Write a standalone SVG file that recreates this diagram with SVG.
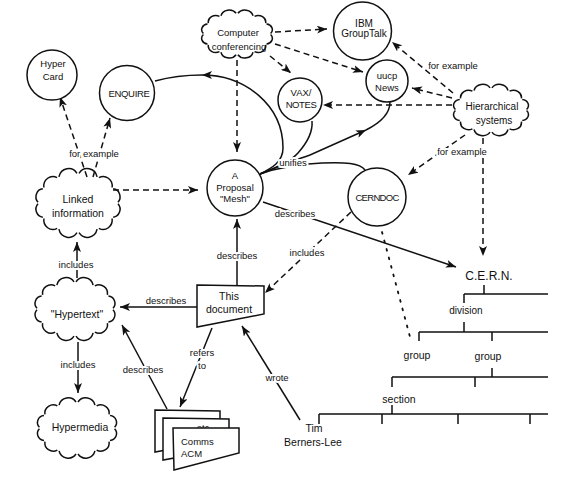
<svg xmlns="http://www.w3.org/2000/svg" xmlns:xlink="http://www.w3.org/1999/xlink" width="562" height="480" viewBox="0 0 562 480">
<style>
.c{fill:#fff;stroke:#111;stroke-width:1.5}
.cl{fill:none;stroke:#111;stroke-width:1.5;vector-effect:non-scaling-stroke}
.s{fill:none;stroke:#111;stroke-width:1.5}
.d{fill:none;stroke:#111;stroke-width:1.5;stroke-dasharray:6,4}
.dot{fill:none;stroke:#111;stroke-width:1.8;stroke-dasharray:1.8,7;stroke-linecap:round}
.a{marker-end:url(#ah)}
.t{font-family:"Liberation Sans",Arial,Helvetica,sans-serif;font-size:9.5px;fill:#111;text-anchor:middle}
.b{font-size:10.5px}
.h{stroke:#fff;stroke-width:4;stroke-linejoin:round;paint-order:stroke}
.tr{fill:none;stroke:#111;stroke-width:1.5}
</style>
<defs>
<marker id="ah" viewBox="0 0 10 8" refX="10" refY="4" markerWidth="10" markerHeight="8" markerUnits="userSpaceOnUse" orient="auto">
<path d="M0,0 L10,4 L0,8 L2.5,4 Z" fill="#111"/>
</marker>
<path id="cloud" class="cl" d="M39.99,0.73 A7.5,7.5 0 0 1 35.15,13.36 M34.11,14.63 A9,9 0 0 1 20.90,23.87 M19.09,24.61 A10,10 0 0 1 1.05,27.99 M-1.05,27.99 A10,10 0 0 1 -19.09,24.61 M-20.90,23.87 A9,9 0 0 1 -34.11,14.63 M-35.15,13.36 A7.5,7.5 0 0 1 -39.99,0.73 M-39.99,-0.73 A7.5,7.5 0 0 1 -35.15,-13.36 M-34.11,-14.63 A9,9 0 0 1 -20.90,-23.87 M-19.09,-24.61 A10,10 0 0 1 -1.05,-27.99 M1.05,-27.99 A10,10 0 0 1 19.09,-24.61 M20.90,-23.87 A9,9 0 0 1 34.11,-14.63 M35.15,-13.36 A7.5,7.5 0 0 1 39.99,-0.73"/>
</defs>
<rect width="562" height="480" fill="#fff"/>

<g id="connectors">
<path class="d a" d="M275,32 L327,29"/>
<path class="d a" d="M275,44 L363,72"/>
<path class="d a" d="M270,56 L291,73"/>
<path class="d a" d="M237,60 L237,152"/>
<path class="d a" d="M453,93 L392,42"/>
<path class="d a" d="M452,98 L412,88"/>
<path class="d a" d="M452,105 L323,105"/>
<path class="d a" d="M465,135 L408,175"/>
<path class="d a" d="M483,138 L483,256"/>
<path class="d a" d="M113,190 L198,190"/>
<path class="d a" d="M87,177 L60,97"/>
<path class="d a" d="M93,177 L110,118"/>
<path class="d a" d="M351,212 L265,293"/>
<path class="dot" d="M382,232 L410,337"/>
<path class="s a" d="M260,174 C272,168 283,162 283,148 C283,105 245,75 202,75"/>
<path class="s" d="M202,75 C182,75 166,78 155,81"/>
<path class="s" d="M260,174 C275,168 290,162 298,153 C306,144 313,132 312,121"/>
<path class="s a" d="M260,174 C280,166 295,160 310,155 L366,130"/>
<path class="s" d="M366,130 C380,123 390,114 390,102"/>
<path class="s" d="M260,174 C280,167 300,164 322,163 C345,162 360,163 365,170"/>
<path class="s a" d="M263,202 L456,267"/>
<path class="s a" d="M237,285 L237,219"/>
<path class="s a" d="M197,307 L120,307"/>
<path class="s a" d="M212,328 L180,407"/>
<path class="s a" d="M167,409 L122,325"/>
<path class="s a" d="M300,420 L242,326"/>
<path class="s a" d="M77,278 L77,242"/>
<path class="s a" d="M78,342 L78,393"/>
<text class="t h" x="94" y="157">for example</text>
<text class="t h" x="453" y="69">for example</text>
<text class="t h" x="462" y="155">for example</text>
<text class="t h" x="293" y="166">unifies</text>
<text class="t h" x="295" y="217">describes</text>
<text class="t h" x="307" y="256">includes</text>
<text class="t h" x="237" y="259">describes</text>
<text class="t" x="166" y="304">describes</text>
<text class="t h" x="202" y="356">refers</text>
<text class="t h" x="202" y="369">to</text>
<text class="t h" x="143" y="373">describes</text>
<text class="t h" x="76" y="268">includes</text>
<text class="t h" x="78" y="368">includes</text>
<text class="t h" x="277" y="381">wrote</text>
</g>

<g id="hypercard">
<circle class="c" cx="52" cy="75" r="25"/>
<text class="t" x="53" y="66.5">Hyper</text>
<text class="t" x="53" y="80">Card</text>
</g>
<g id="enquire">
<circle class="c" cx="127" cy="93" r="27.5"/>
<text class="t" x="129" y="97" letter-spacing="-0.3">ENQUIRE</text>
</g>
<g id="computer-conferencing">
<use xlink:href="#cloud" transform="translate(237,34) scale(0.84,0.74)"/>
<text class="t" x="238" y="36">Computer</text>
<text class="t" x="239" y="50">conferencing</text>
</g>
<g id="ibm-grouptalk">
<circle class="c" cx="362.5" cy="31" r="29"/>
<text class="t" x="364" y="26.5" style="font-size:10px">IBM</text>
<text class="t" x="364" y="37" style="font-size:10px">GroupTalk</text>
</g>
<g id="uucp-news">
<circle class="c" cx="387" cy="81" r="21"/>
<text class="t" x="387" y="79">uucp</text>
<text class="t" x="387" y="90.5">News</text>
</g>
<g id="vax-notes">
<circle class="c" cx="300" cy="100" r="22"/>
<text class="t" x="301" y="95.5">VAX/</text>
<text class="t" x="301" y="107.5" letter-spacing="-0.4">NOTES</text>
</g>
<g id="hierarchical-systems">
<use xlink:href="#cloud" transform="translate(491,110) scale(0.89,0.79)"/>
<text class="t" x="492" y="110" style="font-size:10px">Hierarchical</text>
<text class="t" x="494" y="124" style="font-size:10px">systems</text>
</g>
<g id="mesh">
<circle class="c" cx="235" cy="188" r="28"/>
<text class="t" x="235" y="178.5">A</text>
<text class="t" x="235" y="190.5">Proposal</text>
<text class="t" x="235" y="202">"Mesh"</text>
</g>
<g id="cerndoc">
<circle class="c" cx="377" cy="197" r="29"/>
<text class="t" x="377" y="200.5" letter-spacing="-0.7">CERNDOC</text>
</g>
<g id="linked-information">
<use xlink:href="#cloud" transform="translate(78,203) scale(1.0,1.06)"/>
<text class="t b" x="78" y="203">Linked</text>
<text class="t b" x="78" y="217">information</text>
</g>
<g id="hypertext">
<use xlink:href="#cloud" transform="translate(75,309) scale(0.95,0.97)"/>
<text class="t b" x="77" y="318">"Hypertext"</text>
</g>
<g id="hypermedia">
<use xlink:href="#cloud" transform="translate(77,428) scale(0.94,0.93)"/>
<text class="t b" x="80" y="431">Hypermedia</text>
</g>
<g id="this-document">
<path class="c" d="M197,285 L264,286 L264,314 L197,327 Z"/>
<text class="t b" x="229" y="300">This</text>
<text class="t b" x="229" y="313">document</text>
</g>
<g id="comms-acm">
<path class="c" d="M155,410 L220,411 L220,440 L155,452 Z"/>
<path class="c" d="M163,418 L229,419 L229,448 L163,460 Z"/>
<text class="t" x="203" y="431">etc</text>
<path class="c" d="M173,428 L239,428 L239,453 L174,470 Z"/>
<text class="t" x="181" y="444.5" style="text-anchor:start">Comms</text>
<text class="t" x="181" y="456.5" style="text-anchor:start">ACM</text>
</g>
<g id="cern-tree">
<text class="t" x="489" y="279.5" style="font-size:12px">C.E.R.N.</text>
<path class="tr" d="M484,285 V294 M464,294 H548 M464,294 V303"/>
<text class="t b" x="466" y="313.5" style="font-size:10px">division</text>
<path class="tr" d="M464,322 V332 M419,332 H548 M419,332 V341 M492,332 V341"/>
<text class="t b" x="417" y="358.5">group</text>
<text class="t b" x="488" y="359.5">group</text>
<path class="tr" d="M492,368 V377 M392,377 H548 M392,377 V387 M475,377 V387"/>
<text class="t b" x="399" y="403">section</text>
<path class="tr" d="M392,405 V414 M319,414 H548 M319,414 V424 M382,414 V424 M458,414 V424 M530,414 V424"/>
</g>
<g id="tim-berners-lee">
<text class="t b" x="314" y="432">Tim</text>
<text class="t b" x="313" y="446">Berners-Lee</text>
</g>
</svg>
